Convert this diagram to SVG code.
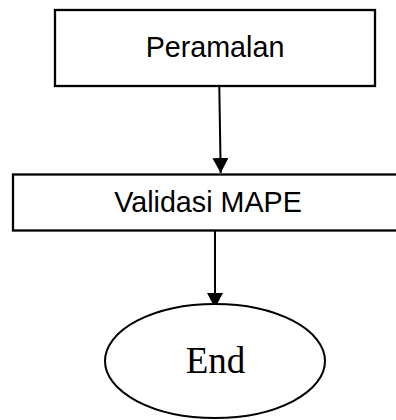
<svg xmlns="http://www.w3.org/2000/svg" width="396" height="420" viewBox="0 0 396 420">
<style>
.box{fill:#fff;stroke:#000;stroke-width:2.3}
.lbl{font-family:"Liberation Sans",Arial,sans-serif;font-size:28.7px;fill:#000;text-anchor:middle}
.lblS{font-family:"Liberation Serif","Times New Roman",serif;font-size:37px;fill:#000;text-anchor:middle}
.conn{stroke:#000;stroke-width:2;fill:none}
</style>
<defs>
<marker id="ah" markerUnits="userSpaceOnUse" markerWidth="18" markerHeight="16" refX="15" refY="8" orient="auto">
<path d="M0,0 L15,8 L0,16 Z" fill="#000"/>
</marker>
</defs>
<rect width="396" height="420" fill="#fff"/>
<g id="connectors">
<line class="conn" x1="219.3" y1="87" x2="220.7" y2="173" marker-end="url(#ah)"/>
<line class="conn" x1="215" y1="231" x2="215" y2="308" marker-end="url(#ah)"/>
</g>
<g id="peramalan">
<rect class="box" x="55" y="10" width="320" height="76"/>
<text class="lbl" x="215" y="57">Peramalan</text>
</g>
<g id="validasi">
<rect class="box" x="13" y="174.5" width="390" height="56"/>
<text class="lbl" x="208" y="212">Validasi MAPE</text>
</g>
<g id="end">
<ellipse cx="215" cy="361" rx="110" ry="57" fill="#fff" stroke="#000" stroke-width="2"/>
<text class="lblS" x="215.5" y="373">End</text>
</g>
</svg>
